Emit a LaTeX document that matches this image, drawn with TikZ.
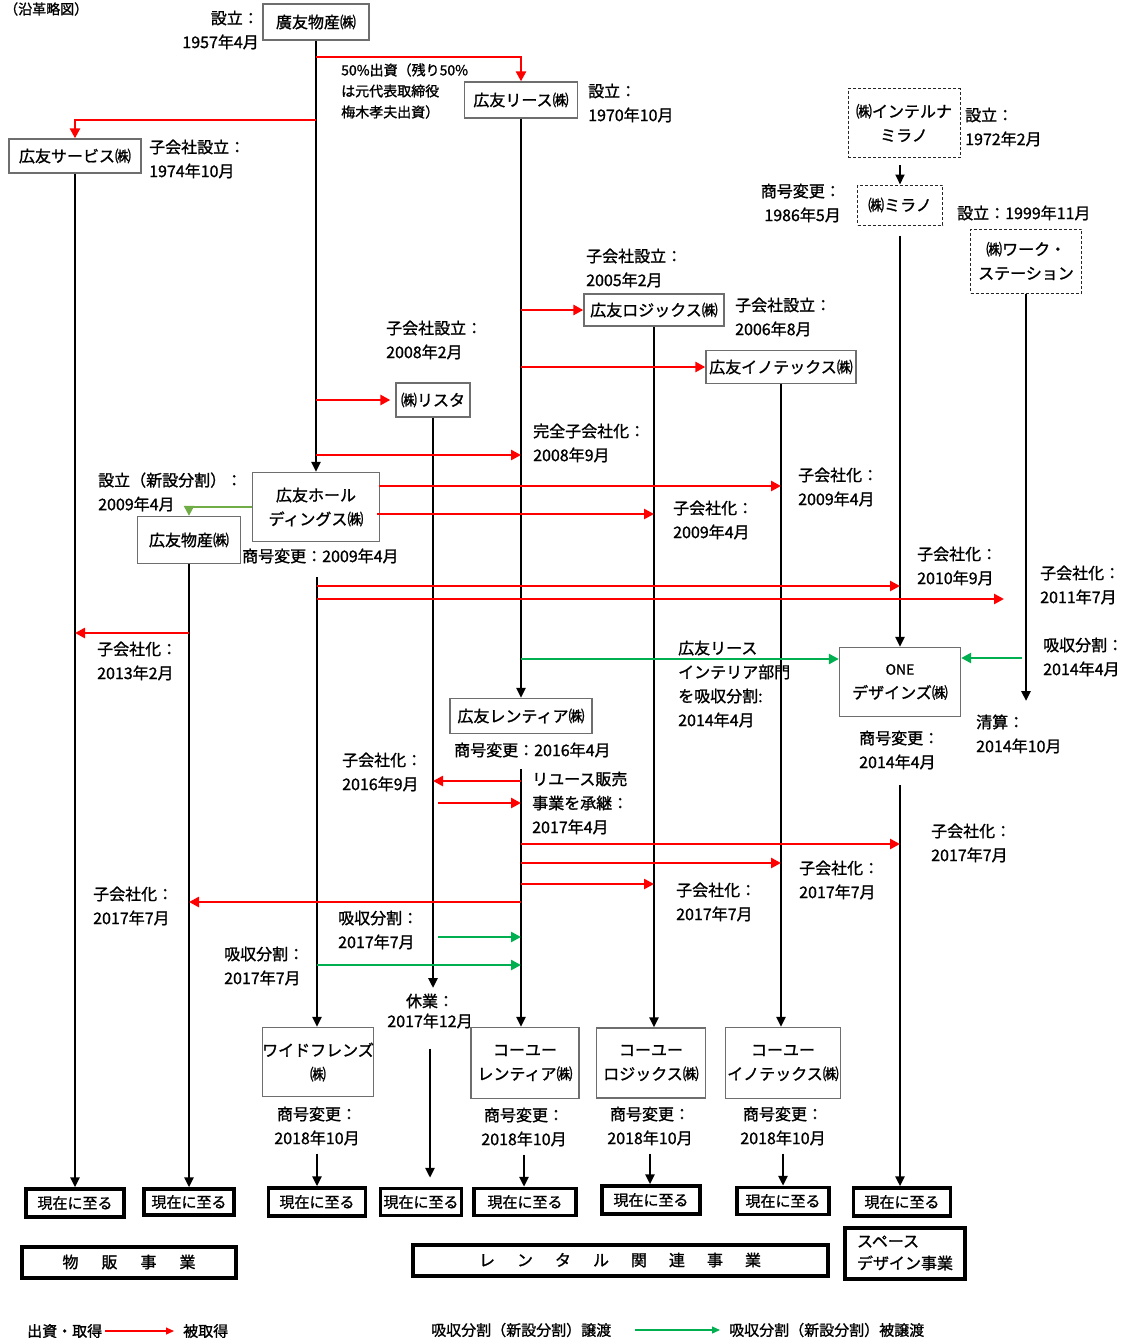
\documentclass[tikz,border=0pt]{standalone}
\usepackage{fontspec}
\setmainfont{Noto Sans CJK JP}[FakeBold=1.2]
\usetikzlibrary{arrows.meta}

\definecolor{kred}{RGB}{255,0,0}
\definecolor{kgreen}{RGB}{0,176,80}
\definecolor{kolive}{RGB}{112,173,71}
\definecolor{kgray}{RGB}{110,110,110}

\tikzset{
  co/.style={draw=kgray, line width=1.3pt, fill=white, align=center, inner sep=2pt},
  codash/.style={co, draw=black!85, line width=1pt, dash pattern=on 3pt off 2pt},
  nowbox/.style={draw, line width=3.5pt, inner sep=0pt, font=\fontsize{15}{18}\selectfont},
  biz/.style={draw, line width=4pt, inner sep=0pt},
  lbl/.style={anchor=west, align=left, inner sep=0pt},
  trunk/.style={line width=2.6pt, -{Triangle[length=10pt,width=9pt]}},
  buy/.style={kred, line width=2.8pt, -{Triangle[length=10pt,width=10pt]}},
  split/.style={kgreen, line width=2.6pt, -{Triangle[length=10pt,width=10pt]}},
}

\begin{document}
\begin{tikzpicture}[x=1pt,y=-1pt,font=\fontsize{16}{24}\selectfont]
    \useasboundingbox (0,0) rectangle (1134,1344);

    \node[lbl, font=\fontsize{14}{18}\selectfont] (title) at (4,9) {（沿革略図）};

    % 会社の箱
    \node[co, minimum width=106pt, minimum height=36pt] (hq) at (316,22) {廣友物産㈱};
    \node[co, minimum width=113pt, minimum height=36pt] (lease) at (521,100) {広友リース㈱};
    \node[co, minimum width=132pt, minimum height=34pt] (service) at (75,156) {広友サービス㈱};
    \node[codash, minimum width=112pt, minimum height=69pt] (interna) at (904,123) {㈱インテルナ\\ミラノ};
    \node[codash, minimum width=85pt, minimum height=40pt] (milano) at (900,205) {㈱ミラノ};
    \node[codash, minimum width=111pt, minimum height=64pt] (work) at (1026,261) {㈱ワーク・\\ステーション};
    \node[co, minimum width=140pt, minimum height=32pt] (logix) at (654,310) {広友ロジックス㈱};
    \node[co, minimum width=150pt, minimum height=33pt] (innotex) at (781,367) {広友イノテックス㈱};
    \node[co, minimum width=74pt, minimum height=34pt] (rista) at (433,400) {㈱リスタ};
    \node[co, minimum width=127pt, minimum height=69pt] (hd) at (316,507) {広友ホール\\ディングス㈱};
    \node[co, minimum width=103pt, minimum height=47pt] (bussan) at (189,540) {広友物産㈱};
    \node[co, minimum width=121pt, minimum height=69pt] (one) at (900,682) {{\fontsize{14}{24}\selectfont ONE}\\デザインズ㈱};
    \node[co, minimum width=142pt, minimum height=35pt] (rentia) at (521,716) {広友レンティア㈱};
    \node[co, inner xsep=0pt, minimum width=108pt, minimum height=69pt] (wide) at (318,1062) {ワイドフレンズ\\㈱};
    \node[co, minimum width=108pt, minimum height=71pt] (urent) at (525,1063) {コーユー\\レンティア㈱};
    \node[co, minimum width=109pt, minimum height=70pt] (ulogix) at (651,1063) {コーユー\\ロジックス㈱};
    \node[co, minimum width=115pt, minimum height=71pt] (uinno) at (783,1063) {コーユー\\イノテックス㈱};

    % 現在に至る
    \node[nowbox, minimum width=98pt, minimum height=28pt] (now1) at (75,1203) {現在に至る};
    \node[nowbox, minimum width=90pt, minimum height=26pt] (now2) at (189,1202) {現在に至る};
    \node[nowbox, minimum width=97pt, minimum height=28pt] (now3) at (317,1202) {現在に至る};
    \node[nowbox, minimum width=81pt, minimum height=27pt] (now4) at (421,1202) {現在に至る};
    \node[nowbox, minimum width=102pt, minimum height=27pt] (now5) at (525,1202) {現在に至る};
    \node[nowbox, minimum width=98pt, minimum height=28pt] (now6) at (651,1200) {現在に至る};
    \node[nowbox, minimum width=92pt, minimum height=27pt] (now7) at (783,1201) {現在に至る};
    \node[nowbox, minimum width=97pt, minimum height=28pt] (now8) at (902,1202) {現在に至る};

    % 事業
    \node[biz, minimum width=214pt, minimum height=31pt] (biz1) at (129,1262) {物\hspace{23pt}販\hspace{23pt}事\hspace{23pt}業};
    \node[biz, minimum width=415pt, minimum height=31pt] (biz2) at (620,1260) {レ\hspace{22pt}ン\hspace{22pt}タ\hspace{22pt}ル\hspace{22pt}関\hspace{22pt}連\hspace{22pt}事\hspace{22pt}業};
    \node[biz, minimum width=120pt, minimum height=51pt, align=left, font=\fontsize{16}{22}\selectfont] (biz3) at (905,1253) {スペース\\デザイン事業};

    % ラベル
    \node[lbl, anchor=east, align=right] (l1) at (259,30) {設立：\\1957年4月};
    \node[lbl, font=\fontsize{14}{21}\selectfont] (l2) at (341,91) {50\%出資（残り50\%\\は元代表取締役\\梅木孝夫出資）};
    \node[lbl] (l3) at (588,103) {設立：\\1970年10月};
    \node[lbl] (l4) at (149,159) {子会社設立：\\1974年10月};
    \node[lbl] (l5) at (965,127) {設立：\\1972年2月};
    \node[lbl, anchor=east, align=right] (l6) at (841,203) {商号変更：\\1986年5月};
    \node[lbl] (l7) at (957,213) {設立：1999年11月};
    \node[lbl] (l8) at (586,268) {子会社設立：\\2005年2月};
    \node[lbl] (l9) at (735,317) {子会社設立：\\2006年8月};
    \node[lbl] (l10) at (386,340) {子会社設立：\\2008年2月};
    \node[lbl] (l11) at (533,443) {完全子会社化：\\2008年9月};
    \node[lbl] (l12) at (98,492) {設立（新設分割）：\\2009年4月};
    \node[lbl] (l13) at (798,487) {子会社化：\\2009年4月};
    \node[lbl] (l14) at (673,520) {子会社化：\\2009年4月};
    \node[lbl] (l15) at (242,556) {商号変更：2009年4月};
    \node[lbl] (l16) at (917,566) {子会社化：\\2010年9月};
    \node[lbl] (l17) at (1040,585) {子会社化：\\2011年7月};
    \node[lbl] (l18) at (97,661) {子会社化：\\2013年2月};
    \node[lbl] (l19) at (678,684) {広友リース\\インテリア部門\\を吸収分割:\\2014年4月};
    \node[lbl] (l20) at (1043,657) {吸収分割：\\2014年4月};
    \node[lbl] (l21) at (976,734) {清算：\\2014年10月};
    \node[lbl] (l22) at (859,750) {商号変更：\\2014年4月};
    \node[lbl] (l23) at (454,750) {商号変更：2016年4月};
    \node[lbl] (l24) at (342,772) {子会社化：\\2016年9月};
    \node[lbl] (l25) at (532,803) {リユース販売\\事業を承継：\\2017年4月};
    \node[lbl] (l26) at (931,843) {子会社化：\\2017年7月};
    \node[lbl] (l27) at (799,880) {子会社化：\\2017年7月};
    \node[lbl] (l28) at (676,902) {子会社化：\\2017年7月};
    \node[lbl] (l29) at (93,906) {子会社化：\\2017年7月};
    \node[lbl] (l30) at (338,930) {吸収分割：\\2017年7月};
    \node[lbl] (l31) at (224,966) {吸収分割：\\2017年7月};
    \node[inner sep=0pt, align=center, font=\fontsize{16}{20}\selectfont] (kyu) at (430,1011) {休業：\\2017年12月};
    \node[inner sep=0pt, align=center] (cn1) at (317,1126) {商号変更：\\2018年10月};
    \node[inner sep=0pt, align=center] (cn2) at (524,1127) {商号変更：\\2018年10月};
    \node[inner sep=0pt, align=center] (cn3) at (650,1126) {商号変更：\\2018年10月};
    \node[inner sep=0pt, align=center] (cn4) at (783,1126) {商号変更：\\2018年10月};

    % 縦の線
    \draw[trunk] (hq) -- (hd);
    \draw[trunk] (lease) -- (rentia);
    \draw[trunk] (service) -- (now1);
    \draw[trunk] (bussan) -- (now2);
    \coordinate (ristaEnd) at (433,988);
    \draw[trunk] (rista) -- (ristaEnd);
    \draw[trunk] (logix) -- (logix |- ulogix.north);
    \draw[trunk] (innotex) -- (innotex |- uinno.north);
    \draw[trunk, line width=1.8pt, shorten <=7pt] (interna.south -| milano) -- (milano);
    \draw[trunk, shorten <=10pt] (milano) -- (one);
    \coordinate (workEnd) at (1026,701);
    \draw[trunk] (work) -- (workEnd);
    \coordinate (jTop) at (317,577);
    \draw[trunk] (jTop) -- (jTop |- wide.north);
    \coordinate (cTop) at (521,769);
    \draw[trunk] (cTop) -- (cTop |- urent.north);
    \coordinate (oTop) at (900,785);
    \draw[trunk] (oTop) -- (oTop |- now8.north);
    \draw[trunk, shorten <=20pt, shorten >=9pt] (kyu.south) -- (kyu.south |- now4.north);
    \draw[trunk, shorten <=8pt] (cn1.south) -- (cn1.south |- now3.north);
    \draw[trunk, shorten <=8pt] (cn2.south) -- (cn2.south |- now5.north);
    \draw[trunk, shorten <=8pt] (cn3.south) -- (cn3.south |- now6.north);
    \draw[trunk, shorten <=8pt] (cn4.south) -- (cn4.south |- now7.north);

    % 出資・取得（赤）
    \coordinate (f1) at (316,57);
    \draw[buy] (f1) -| (lease.north);
    \coordinate (f2) at (316,120);
    \draw[buy] (f2) -| (service.north);
    \draw[buy, shorten >=5pt] (hq |- rista) -- (rista);
    \draw[buy] (lease |- logix) -- (logix);
    \draw[buy] (lease |- innotex) -- (innotex);
    \coordinate (f3) at (316,455);
    \draw[buy] (f3) -- (f3 -| lease);
    \coordinate (f4) at (379,486);
    \draw[buy] (f4) -- (f4 -| innotex);
    \coordinate (f5) at (377,514);
    \draw[buy] (f5) -- (f5 -| logix);
    \coordinate (f6) at (317,586);
    \draw[buy] (f6) -- (f6 -| milano);
    \coordinate (f7) at (317,599);
    \coordinate (f7e) at (1004,599);
    \draw[buy] (f7) -- (f7e);
    \coordinate (f8) at (189,633);
    \draw[buy] (f8) -- (f8 -| service);
    \coordinate (f9) at (521,781);
    \draw[buy] (f9) -- (f9 -| rista);
    \coordinate (f10) at (438,803);
    \draw[buy] (f10) -- (f10 -| lease);
    \coordinate (f11) at (521,844);
    \draw[buy] (f11) -- (f11 -| milano);
    \coordinate (f12) at (521,863);
    \draw[buy] (f12) -- (f12 -| innotex);
    \coordinate (f13) at (521,884);
    \draw[buy] (f13) -- (f13 -| logix);
    \coordinate (f14) at (521,902);
    \draw[buy] (f14) -- (f14 -| bussan);

    % 吸収分割（緑）
    \draw[split, kolive, line width=2.2pt] (hd.west) -| (bussan.north);
    \coordinate (g1) at (521,659);
    \draw[split] (g1) -- (g1 -| one.west);
    \coordinate (g2) at (1022,658);
    \draw[split] (g2) -- (g2 -| one.east);
    \coordinate (g3) at (438,937);
    \draw[split] (g3) -- (g3 -| lease);
    \coordinate (g4) at (317,965);
    \draw[split] (g4) -- (g4 -| lease);

    % 凡例
    \node[lbl, font=\fontsize{15}{18}\selectfont] (lgA) at (27,1331) {出資・取得};
    \node[lbl, font=\fontsize{15}{18}\selectfont] (lgB) at (183,1331) {被取得};
    \draw[kred, line width=1.2pt, -{Triangle[length=8pt,width=7pt]}, shorten <=3pt, shorten >=9pt] (lgA) -- (lgB);
    \node[lbl, font=\fontsize{15}{18}\selectfont] (lgC) at (431,1330) {吸収分割（新設分割）譲渡};
    \node[lbl, font=\fontsize{15}{18}\selectfont] (lgD) at (729,1330) {吸収分割（新設分割）被譲渡};
    \draw[kgreen, line width=1.2pt, -{Triangle[length=8pt,width=7pt]}, shorten <=24pt, shorten >=9pt] (lgC) -- (lgD);
\end{tikzpicture}
\end{document}
